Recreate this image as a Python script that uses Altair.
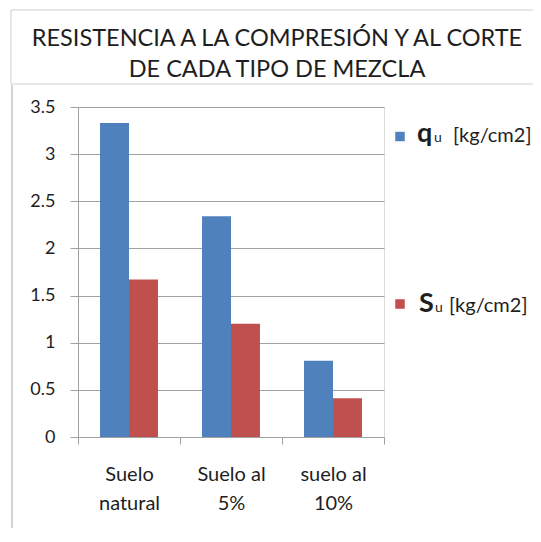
import altair as alt
import pandas as pd

# ---- data ----
categories = ["Suelo\nnatural", "Suelo al\n5%", "suelo al\n10%"]
series = ["qu [kg/cm2]", "Su [kg/cm2]"]
series_main = ["q", "S"]
series_sub = ["u", "u"]
series_unit = "[kg/cm2]"
qu_values = [3.33, 2.34, 0.81]
su_values = [1.67, 1.20, 0.41]
colors = ["#4F81BD", "#C0504D"]
title_lines = ["RESISTENCIA A LA COMPRESIÓN Y AL CORTE", "DE CADA TIPO DE MEZCLA"]
y_ticks = [0, 0.5, 1, 1.5, 2, 2.5, 3, 3.5]

rows = []
for i, c in enumerate(categories):
    rows.append({"cat": c, "serie": series[0], "valor": qu_values[i]})
    rows.append({"cat": c, "serie": series[1], "valor": su_values[i]})
df = pd.DataFrame(rows)

FONT = "Lato"
TXT = "#1e1e1e"
GRID = "#a0a0a0"

bars = alt.Chart(df).mark_bar().encode(
    x=alt.X("cat:N", sort=categories,
            scale=alt.Scale(paddingInner=0, paddingOuter=0),
            axis=alt.Axis(title=None, labelAngle=0, tickBand="extent",
                          labelExpr="split(datum.label, '\\n')",
                          labelLineHeight=29, labelFontSize=20,
                          labelPadding=20, tickSize=7,
                          labelColor=TXT, labelFont=FONT,
                          domainColor=GRID, tickColor=GRID, grid=False)),
    xOffset=alt.XOffset("serie:N", sort=series,
                        scale=alt.Scale(paddingInner=0, paddingOuter=0.76)),
    y=alt.Y("valor:Q", scale=alt.Scale(domain=[0, 3.5], nice=False),
            axis=alt.Axis(title=None, values=y_ticks, format="~g",
                          grid=True, gridColor=GRID, gridWidth=1,
                          domainColor=GRID, tickColor=GRID, tickSize=8,
                          labelPadding=15, labelFontSize=18,
                          labelColor=TXT, labelFont=FONT)),
    color=alt.Color("serie:N", sort=series,
                    scale=alt.Scale(domain=series, range=colors), legend=None),
)

one = pd.DataFrame({"k": [0]})
base = alt.Chart(one)

layers = [bars]

# frame lines (chart border, title box)
frame_light = "#cfcfcf"
frame_dark = "#a8a8a8"
layers.append(base.mark_rule(color=frame_light, strokeWidth=1).encode(
    x=alt.value(-67), x2=alt.value(470), y=alt.value(-97)))
layers.append(base.mark_rule(color=frame_light, strokeWidth=1).encode(
    x=alt.value(-67), x2=alt.value(470), y=alt.value(-23)))
layers.append(base.mark_rule(color=frame_light, strokeWidth=1).encode(
    x=alt.value(-67), y=alt.value(-97), y2=alt.value(-23)))
layers.append(base.mark_rule(color=frame_dark, strokeWidth=1).encode(
    x=alt.value(-66), y=alt.value(-22), y2=alt.value(440)))

# title
for i, line in enumerate(title_lines):
    layers.append(base.mark_text(font=FONT, fontSize=23.5, color=TXT,
                                 align="center", baseline="alphabetic").encode(
        x=alt.value(199), y=alt.value(-61 + 31 * i), text=alt.value(line)))

# custom legend
legend_y = [35, 205]
legend_sq = [29.5, 197]
main_x = [339, 341]
sub_x = [356, 357]
unit_x = [375, 371]
for i in range(len(series)):
    layers.append(base.mark_square(color=colors[i], size=90, opacity=1).encode(
        x=alt.value(322), y=alt.value(legend_sq[i])))
    layers.append(base.mark_text(font=FONT, fontSize=27, fontWeight="bold",
                                 color=TXT, align="left", baseline="alphabetic").encode(
        x=alt.value(main_x[i]), y=alt.value(legend_y[i]), text=alt.value(series_main[i])))
    layers.append(base.mark_text(font=FONT, fontSize=14, color=TXT,
                                 align="left", baseline="alphabetic").encode(
        x=alt.value(sub_x[i]), y=alt.value(legend_y[i]), text=alt.value(series_sub[i])))
    layers.append(base.mark_text(font=FONT, fontSize=20, color=TXT,
                                 align="left", baseline="alphabetic").encode(
        x=alt.value(unit_x[i]), y=alt.value(legend_y[i]), text=alt.value(series_unit)))

chart = alt.layer(*layers).properties(
    width=306, height=330,
    autosize=alt.AutoSizeParams(type="none"),
    padding={"left": 70, "top": 99, "right": 149, "bottom": 91},
).configure_view(stroke=None).configure(background="white")

chart.save("out.html", embed_options={"renderer": "svg", "actions": False})
